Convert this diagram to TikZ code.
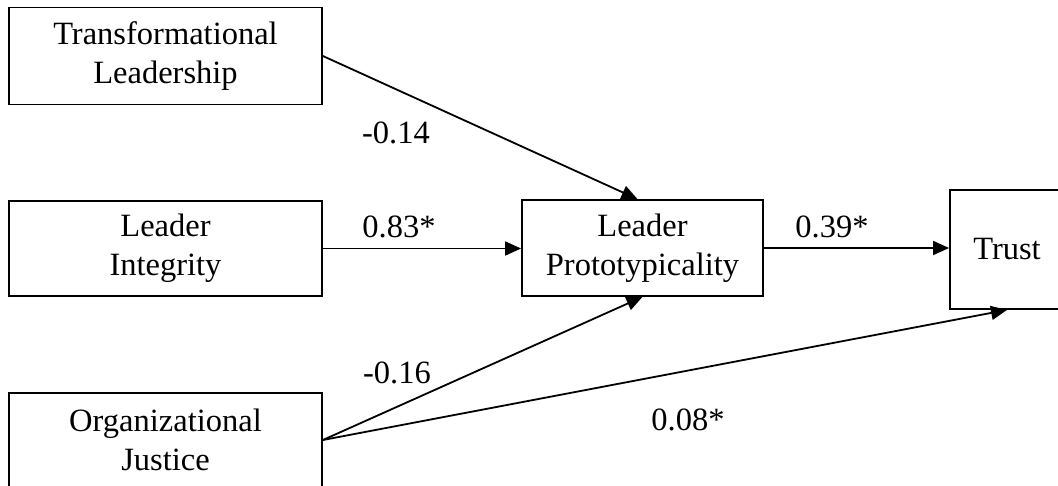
\documentclass[tikz,border=0pt]{standalone}
\usepackage{fontspec}
\setmainfont{Liberation Serif}
\usetikzlibrary{arrows.meta,positioning}

\begin{document}
\begin{tikzpicture}[x=1pt,y=-1pt,>={Triangle[length=16pt,width=14pt]},line join=miter]
\useasboundingbox (0,0) rectangle (1058,486);
\clip (0,0) rectangle (1058,486);
\tikzset{var/.style={draw=black,line width=1.8pt,fill=white,align=center,font=\fontsize{32.5}{39}\selectfont,inner sep=0pt},link/.style={draw=black,line width=1.8pt,->},coef/.style={font=\fontsize{32.5}{39}\selectfont,inner sep=0pt}}
\node[var,minimum width=313pt,minimum height=97pt] (tl) at (165.5,56) {Transformational\\Leadership};
\node[var,minimum width=313pt,minimum height=95pt] (li) at (165.5,248.5) {Leader\\Integrity};
\node[var,minimum width=313pt,minimum height=94pt] (oj) at (165.5,440) {Organizational\\Justice};
\node[var,minimum width=241pt,minimum height=96pt] (lp) at (642.5,248) {Leader\\Prototypicality};
\node[var,minimum width=114pt,minimum height=119pt] (tr) at (1007,249.5) {Trust};
\draw[link] (tl.east) -- ([xshift=-5pt]lp.north);
\draw[link] (li.east) -- (li.east -| lp.west);
\draw[link] (oj.east) -- (lp.south);
\draw[link] (lp.east) -- (lp.east -| tr.west);
\draw[link] (oj.east) -- (tr.south);
\node[coef] (b1) at (396,133) {-0.14};
\node[coef] (b2) at (399,227) {0.83*};
\node[coef] (b3) at (397,373) {-0.16};
\node[coef] (b4) at (688,420) {0.08*};
\node[coef] (b5) at (832,227) {0.39*};
\end{tikzpicture}
\end{document}
